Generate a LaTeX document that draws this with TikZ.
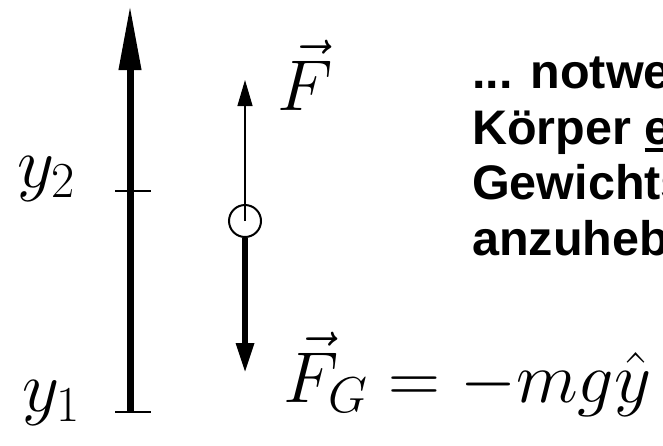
\RequirePackage{fix-cm}
\documentclass[tikz,border=0pt]{standalone}
\usepackage{fontspec}
\usepackage{tikz}
\usetikzlibrary{arrows.meta}
\newfontfamily\slidefont{Liberation Sans}
\newcommand{\ulletter}[1]{\leavevmode\setbox0\hbox{#1}\rlap{\rule[-8pt]{\wd0}{4pt}}\box0}
\tikzset{
    axis/.style = {line width=7pt, -{Triangle[length=65pt, width=21pt]}},
    tick/.style = {line width=2pt},
    force/.style = {line width=1.3pt, -{Triangle[length=26pt, width=15pt]}},
    weight/.style = {line width=6pt, -{Triangle[length=30pt, width=17pt]}},
    mass/.style = {circle, draw, line width=2pt, minimum size=32pt, inner sep=0pt},
    mathlabel/.style = {anchor=base west, inner sep=0pt, font=\fontsize{72pt}{80pt}\selectfont},
    slidetext/.style = {anchor=base west, align=left, inner sep=0pt, font=\fontsize{48.5pt}{55.5pt}\selectfont\slidefont\bfseries}
}

\begin{document}
\begin{tikzpicture}[x=1pt, y=-1pt]
	\useasboundingbox (0,0) rectangle (663,445);
	\clip (0,0) rectangle (663,445);

	% height axis
	\coordinate (ybot) at (130,412);
	\coordinate (ytop) at (130,5);
	\coordinate (ymid) at (130,191);
	\draw[axis] (ybot) -- (ytop);
	\draw[tick] (115,412) -- (151,412);
	\draw[tick] (115,191) -- (151,191);
	\node[mathlabel](L1) at (22,411){$y_1$};
	\node[mathlabel](L2) at (17,187){$y_2$};

	% body with forces
	\node[mass](M) at (245,221){};
	\coordinate (Ftip) at (245,80);
	\coordinate (FGtip) at (245,373);
	\draw[force] (M.center) -- (Ftip);
	\draw[weight] (M.south) -- (FGtip);
	\node[mathlabel](F) at (277,110){$\vec{F}$};
	\node[mathlabel](FG) at (283,402){$\vec{F}_G=-mg\hat{y}$};

	% last line sits on the anchor
	\node[slidetext](T) at (472,255){... notwe\\K\"orper \ulletter{e}\\Gewichts\\anzuheb};
\end{tikzpicture}
\end{document}
